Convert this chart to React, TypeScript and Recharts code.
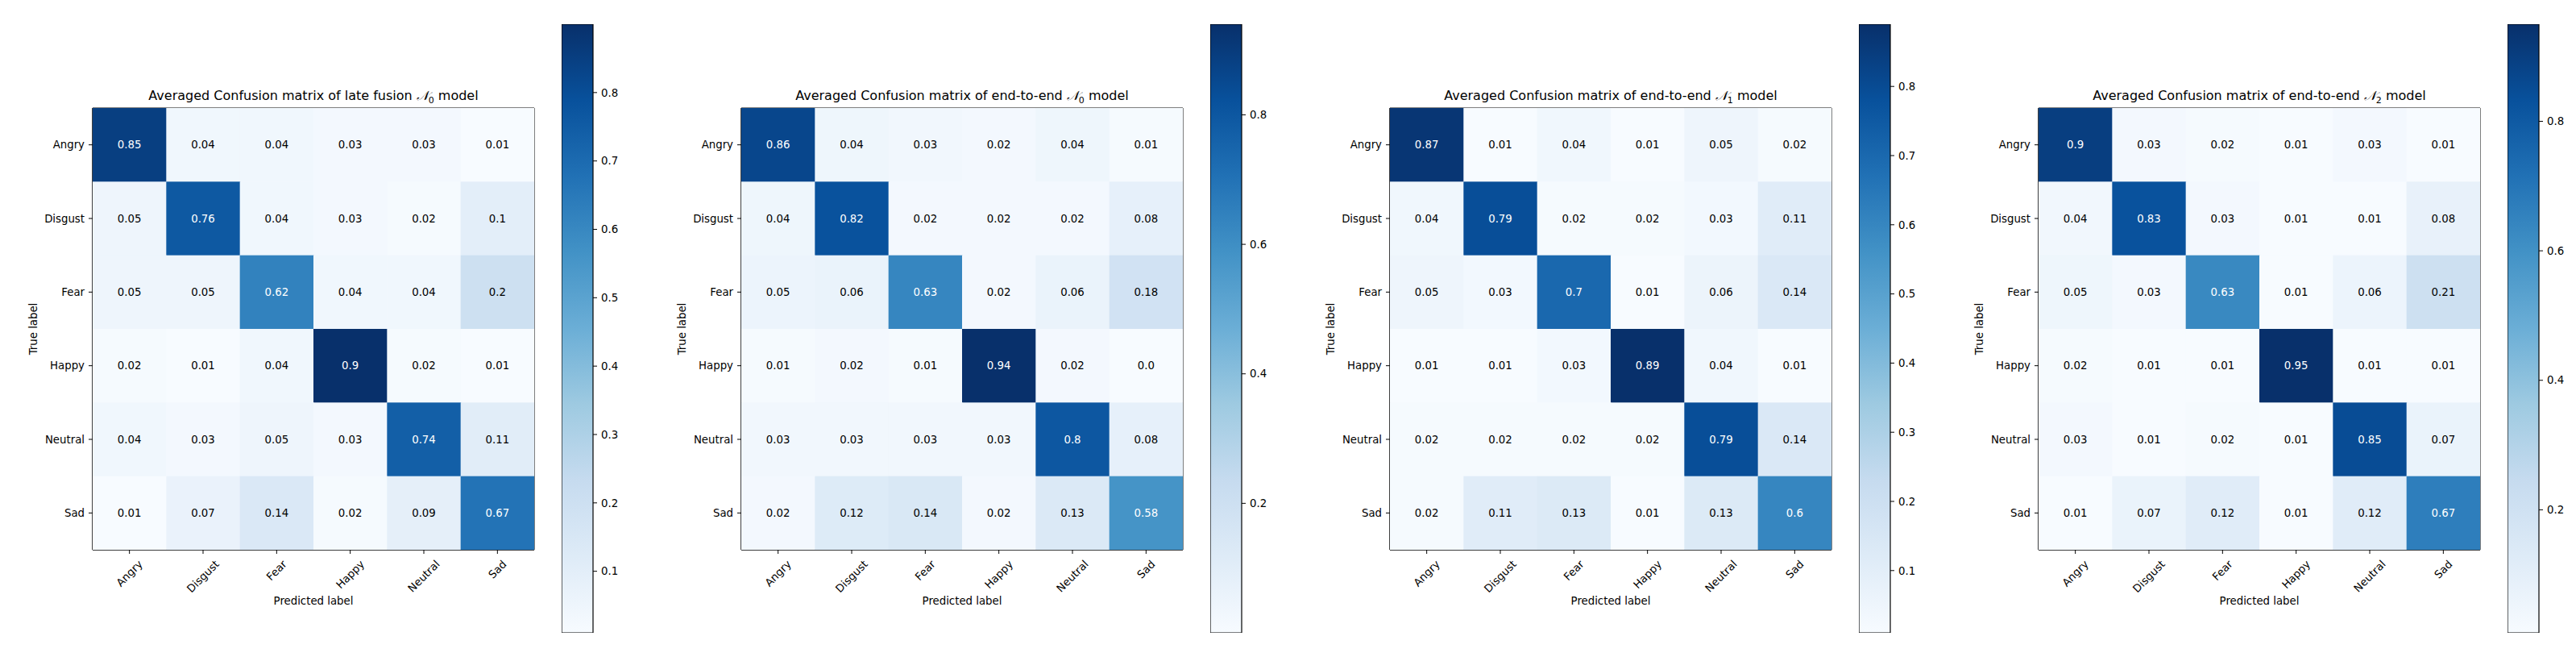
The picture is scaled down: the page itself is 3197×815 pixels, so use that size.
import React from "react";
import { ScatterChart, Scatter, XAxis, YAxis, BarChart, Bar, ReferenceArea } from "recharts";

// class labels (rows = true, cols = predicted)
const EMOTIONS = ["Angry", "Disgust", "Fear", "Happy", "Neutral", "Sad"];

const LATE_N0 = [
  [0.85, 0.04, 0.04, 0.03, 0.03, 0.01],
  [0.05, 0.76, 0.04, 0.03, 0.02, 0.1],
  [0.05, 0.05, 0.62, 0.04, 0.04, 0.2],
  [0.02, 0.01, 0.04, 0.9, 0.02, 0.01],
  [0.04, 0.03, 0.05, 0.03, 0.74, 0.11],
  [0.01, 0.07, 0.14, 0.02, 0.09, 0.67],
];

const E2E_N0 = [
  [0.86, 0.04, 0.03, 0.02, 0.04, 0.01],
  [0.04, 0.82, 0.02, 0.02, 0.02, 0.08],
  [0.05, 0.06, 0.63, 0.02, 0.06, 0.18],
  [0.01, 0.02, 0.01, 0.94, 0.02, 0.0],
  [0.03, 0.03, 0.03, 0.03, 0.8, 0.08],
  [0.02, 0.12, 0.14, 0.02, 0.13, 0.58],
];

const E2E_N1 = [
  [0.87, 0.01, 0.04, 0.01, 0.05, 0.02],
  [0.04, 0.79, 0.02, 0.02, 0.03, 0.11],
  [0.05, 0.03, 0.7, 0.01, 0.06, 0.14],
  [0.01, 0.01, 0.03, 0.89, 0.04, 0.01],
  [0.02, 0.02, 0.02, 0.02, 0.79, 0.14],
  [0.02, 0.11, 0.13, 0.01, 0.13, 0.6],
];

const E2E_N2 = [
  [0.9, 0.03, 0.02, 0.01, 0.03, 0.01],
  [0.04, 0.83, 0.03, 0.01, 0.01, 0.08],
  [0.05, 0.03, 0.63, 0.01, 0.06, 0.21],
  [0.02, 0.01, 0.01, 0.95, 0.01, 0.01],
  [0.03, 0.01, 0.02, 0.01, 0.85, 0.07],
  [0.01, 0.07, 0.12, 0.01, 0.12, 0.67],
];

const TITLE_PREFIX = [
  "Averaged Confusion matrix of late fusion ",
  "Averaged Confusion matrix of end-to-end ",
  "Averaged Confusion matrix of end-to-end ",
  "Averaged Confusion matrix of end-to-end ",
];
const MODEL_INDEX = ["0", "0", "1", "2"];

const CB_TICKS_FINE = [0.1, 0.2, 0.3, 0.4, 0.5, 0.6, 0.7, 0.8];
const CB_TICKS_COARSE = [0.2, 0.4, 0.6, 0.8];

const CELL_TICKS = [0, 1, 2, 3, 4, 5];

// matplotlib "Blues"
const BLUES = ["#f7fbff", "#deebf7", "#c6dbef", "#9ecae1", "#6baed6", "#4292c6", "#2171b5", "#08519c", "#08306b"];

const FS = 13.3;
const FONT = '"DejaVu Sans", sans-serif';
const PLOT = 548;
const TOP = 134;
const LEFT_W = 115;
const PANEL_LEFT = [115, 920, 1725, 2530];

function hex(c: string) {
  return [1, 3, 5].map((i) => parseInt(c.slice(i, i + 2), 16));
}

function blues(t: number) {
  const p = Math.max(0, Math.min(1, t)) * (BLUES.length - 1);
  const i = Math.min(Math.floor(p), BLUES.length - 2);
  const f = p - i;
  const a = hex(BLUES[i]);
  const b = hex(BLUES[i + 1]);
  const c = a.map((v, k) => Math.round(v + (b[k] - v) * f));
  return `rgb(${c[0]},${c[1]},${c[2]})`;
}

const fmt = (v: number) => (Number.isInteger(v) ? v.toFixed(1) : String(v));

let ctx: CanvasRenderingContext2D | null = null;
function textWidth(s: string) {
  if (!ctx) ctx = document.createElement("canvas").getContext("2d");
  if (!ctx) return s.length * FS * 0.6;
  ctx.font = `${FS}px "DejaVu Sans"`;
  return ctx.measureText(s).width;
}

function XTick(props: any) {
  const { x, y, payload } = props;
  const label = EMOTIONS[payload.value];
  const w = textWidth(label);
  const off = (w + FS * 1.17) / (2 * Math.SQRT2);
  const cy = y + off;
  return (
    <text x={x} y={cy} textAnchor="middle" dominantBaseline="central" transform={`rotate(-45 ${x} ${cy})`} fontSize={FS} fill="#000">
      {label}
    </text>
  );
}

function Matrix({ data, idx }: { data: number[][]; idx: number }) {
  const flat = data.flat();
  const min = Math.min(...flat);
  const max = Math.max(...flat);
  const thresh = max / 2;
  const points = data.flatMap((row, r) => row.map((v, c) => ({ x: c, y: r, v })));
  const cell = PLOT / 6;

  const Cell = (p: any) => {
    const { cx, cy, payload } = p;
    return (
      <g>
        <rect x={cx - cell / 2} y={cy - cell / 2} width={cell + 0.6} height={cell + 0.6} fill={blues((payload.v - min) / (max - min))} />
        <text x={cx} y={cy} textAnchor="middle" dominantBaseline="central" fontSize={FS} fill={payload.v > thresh ? "#fff" : "#000"}>
          {fmt(payload.v)}
        </text>
      </g>
    );
  };

  const cbId = `cb${idx}`;
  const cbTicks = idx % 2 === 0 ? CB_TICKS_FINE : CB_TICKS_COARSE;
  const left = PANEL_LEFT[idx];
  const midX = LEFT_W + PLOT / 2;

  return (
    <>
      <div style={{ position: "absolute", left: left - LEFT_W, top: 0 }}>
        <ScatterChart width={LEFT_W + PLOT + 10} height={815} margin={{ top: TOP, right: 10, bottom: 0, left: 0 }}>
          <XAxis
            type="number"
            dataKey="x"
            domain={[-0.5, 5.5]}
            ticks={CELL_TICKS}
            interval={0}
            height={815 - TOP - PLOT}
            tickSize={5}
            tickMargin={5}
            tick={<XTick />}
            axisLine={{ stroke: "#000" }}
            tickLine={{ stroke: "#000" }}
            allowDataOverflow
            label={() => (
              <g>
                <text x={midX} y={745} textAnchor="middle" dominantBaseline="central" fontSize={FS} fill="#000">
                  Predicted label
                </text>
                <text x={midX} y={TOP - 10} textAnchor="middle" fontSize={16} fill="#000">
                  {TITLE_PREFIX[idx]}
                  <tspan fontStyle="italic">𝒩</tspan>
                  <tspan dy={4} fontSize={11}>{MODEL_INDEX[idx]}</tspan>
                  <tspan dy={-4}> model</tspan>
                </text>
              </g>
            )}
          />
          <YAxis
            type="number"
            dataKey="y"
            domain={[-0.5, 5.5]}
            reversed
            ticks={CELL_TICKS}
            interval={0}
            width={LEFT_W}
            tickSize={5}
            tickMargin={5}
            tickFormatter={(i: number) => EMOTIONS[i]}
            tick={{ fill: "#000", fontSize: FS }}
            axisLine={{ stroke: "#000" }}
            tickLine={{ stroke: "#000" }}
            allowDataOverflow
            label={() => (
              <text x={41} y={TOP + PLOT / 2} textAnchor="middle" dominantBaseline="central" transform={`rotate(-90 41 ${TOP + PLOT / 2})`} fontSize={FS} fill="#000">
                True label
              </text>
            )}
          />
          <Scatter data={points} shape={Cell} isAnimationActive={false} />
          <ReferenceArea x1={-0.5} x2={5.5} y1={-0.5} y2={5.5} fill="none" fillOpacity={0} stroke="#000" strokeWidth={1} strokeOpacity={1} ifOverflow="visible" />
        </ScatterChart>
      </div>
      <div style={{ position: "absolute", left: left + 582, top: 30 }}>
        <BarChart width={39 + 60} height={755} data={[{ name: "cb", v: max }]} margin={{ top: 0, right: 0, bottom: 0, left: 0 }} barCategoryGap={0}>
          <defs>
            <linearGradient id={cbId} x1="0" y1="1" x2="0" y2="0">
              {BLUES.map((c, i) => (
                <stop key={i} offset={`${(i / (BLUES.length - 1)) * 100}%`} stopColor={c} />
              ))}
            </linearGradient>
          </defs>
          <XAxis dataKey="name" hide />
          <YAxis
            orientation="right"
            type="number"
            domain={[min, max]}
            ticks={cbTicks}
            width={60}
            tickSize={5}
            tickMargin={5}
            tickFormatter={(v: number) => v.toFixed(1)}
            tick={{ fill: "#000", fontSize: FS }}
            axisLine={false}
            tickLine={{ stroke: "#000" }}
            allowDataOverflow
          />
          <Bar dataKey="v" fill={`url(#${cbId})`} stroke="#000" strokeWidth={1.2} isAnimationActive={false} />
        </BarChart>
      </div>
    </>
  );
}

export default function App() {
  const mats = [LATE_N0, E2E_N0, E2E_N1, E2E_N2];
  return (
    <div style={{ position: "absolute", left: 0, top: 0, width: 3197, height: 815, background: "#fff", fontFamily: FONT, overflow: "hidden" }}>
      {mats.map((m, i) => (
        <Matrix key={i} data={m} idx={i} />
      ))}
    </div>
  );
}
